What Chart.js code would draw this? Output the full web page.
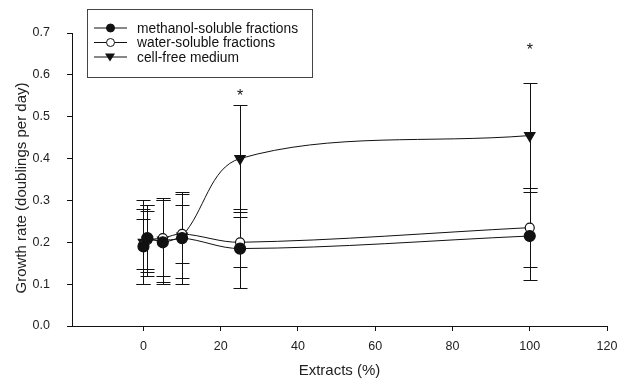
<!DOCTYPE html>
<html lang="en">
<head>
    <meta charset="UTF-8">
    <title>Growth rate vs extracts</title>
    <script src="https://cdn.jsdelivr.net/npm/chart.js@4.4.0/dist/chart.umd.min.js"></script>
    <style>
        html, body { margin: 0; padding: 0; background: #fff; }
        #wrap { width: 632px; height: 385px; position: relative; }
    </style>
</head>
<body>
    <div id="wrap"><canvas id="growthChart"></canvas></div>

    <script>
        // extract concentrations (%)
        const xValues = [0, 1, 5, 10, 25, 100];

        const methanolMean = [0.19, 0.21, 0.20, 0.21, 0.185, 0.215];
        const methanolErr  = [0.09, 0.08, 0.10, 0.11, 0.095, 0.105];

        const waterMean = [0.195, 0.205, 0.21, 0.22, 0.20, 0.235];
        const waterErr  = [0.06, 0.07, 0.09, 0.07, 0.06, 0.095];

        const mediumMean = [0.20, 0.205, 0.205, 0.215, 0.40, 0.455];
        const mediumErr  = [0.10, 0.085, 0.10, 0.10, 0.127, 0.125];

        // significance marks
        const starX = [25, 100];
        const starY = [0.555, 0.665];

        const yTicks = [0, 0.1, 0.2, 0.3, 0.4, 0.5, 0.6, 0.7];
        const xTicks = [0, 20, 40, 60, 80, 100, 120];

        const seriesNames = ['methanol-soluble fractions', 'water-soluble fractions', 'cell-free medium'];
        const yTitle = 'Growth rate (doublings per day)';

        const FONT = 'Arial, "Liberation Sans", sans-serif';

        function pts(means) {
            return xValues.map((x, i) => ({ x: x, y: means[i] }));
        }

        const errSets = [methanolErr, waterErr, mediumErr];

        // error bars drawn behind the markers
        const errorBars = {
            id: 'errorBars',
            beforeDatasetsDraw(chart) {
                const c = chart.ctx;
                const xs = chart.scales.x, ys = chart.scales.y;
                c.save();
                c.strokeStyle = '#111';
                c.lineWidth = 1;
                chart.data.datasets.forEach((ds, di) => {
                    ds.data.forEach((p, i) => {
                        const e = errSets[di][i];
                        const px = Math.round(xs.getPixelForValue(p.x)) + 0.5;
                        const top = Math.round(ys.getPixelForValue(p.y + e)) + 0.5;
                        const bot = Math.round(ys.getPixelForValue(p.y - e)) + 0.5;
                        c.beginPath();
                        c.moveTo(px, top); c.lineTo(px, bot);
                        c.moveTo(px - 7, top); c.lineTo(px + 7, top);
                        c.moveTo(px - 7, bot); c.lineTo(px + 7, bot);
                        c.stroke();
                    });
                });
                c.restore();
            },
            afterDraw(chart) {
                const c = chart.ctx;
                const xs = chart.scales.x, ys = chart.scales.y;
                c.save();
                c.fillStyle = '#111';
                c.font = '16px ' + FONT;
                c.textAlign = 'center';
                c.textBaseline = 'middle';
                starX.forEach((x, i) => {
                    c.fillText('*', xs.getPixelForValue(x), ys.getPixelForValue(starY[i]) + 3);
                });

                // y axis title, sitting a little below the axis centre as in the original
                c.save();
                c.translate(22, 188);
                c.rotate(-Math.PI / 2);
                c.fillStyle = '#222';
                c.font = '15px ' + FONT;
                c.fillText(yTitle, 0, 0);
                c.restore();

                // legend box
                const bx = 87, by = 9, bw = 225, bh = 68;
                c.strokeStyle = '#444';
                c.lineWidth = 1;
                c.fillStyle = '#fff';
                c.fillRect(bx, by, bw, bh);
                c.strokeRect(bx + 0.5, by + 0.5, bw, bh);
                c.font = '13.8px ' + FONT;
                c.textAlign = 'left';
                const rowY = [28, 42.5, 57];
                seriesNames.forEach((name, i) => {
                    const y = rowY[i];
                    c.strokeStyle = '#111';
                    c.beginPath();
                    c.moveTo(94, y); c.lineTo(127, y);
                    c.stroke();
                    c.beginPath();
                    if (i === 2) {
                        c.moveTo(105, y - 3.5); c.lineTo(115, y - 3.5); c.lineTo(110, y + 4.5);
                        c.closePath();
                        c.fillStyle = '#111'; c.fill();
                    } else {
                        c.arc(110.5, y, 4, 0, Math.PI * 2);
                        c.fillStyle = i === 0 ? '#111' : '#fff';
                        c.fill(); c.stroke();
                    }
                    c.fillStyle = '#111';
                    c.fillText(name, 137, y + 1);
                });
                c.restore();
            }
        };

        function lineSet(label, means, style, fill, radius, rotation) {
            return {
                label: label,
                data: pts(means),
                showLine: true,
                borderColor: '#111',
                borderWidth: 1,
                tension: 0.35,
                pointStyle: style,
                pointRotation: rotation || 0,
                pointRadius: radius,
                pointBackgroundColor: fill,
                pointBorderColor: '#111',
                pointBorderWidth: 1.2
            };
        }

        new Chart(document.getElementById('growthChart'), {
            type: 'scatter',
            data: {
                datasets: [
                    lineSet(seriesNames[0], methanolMean, 'circle', '#111', 5.5),
                    lineSet(seriesNames[1], waterMean, 'circle', '#fff', 4.5),
                    lineSet(seriesNames[2], mediumMean, 'triangle', '#111', 6, 180)
                ]
            },
            options: {
                responsive: true,
                maintainAspectRatio: false,
                animation: false,
                layout: { padding: { top: 33, right: 25, left: 13, bottom: 0 } },
                plugins: {
                    legend: { display: false },
                    tooltip: { enabled: false }
                },
                scales: {
                    x: {
                        type: 'linear',
                        min: -18.5,
                        max: 120,
                        afterBuildTicks(axis) {
                            axis.ticks = xTicks.map(v => ({ value: v }));
                        },
                        afterFit(axis) { axis.height = 59; },
                        grid: { drawOnChartArea: false, color: '#111', tickLength: 5 },
                        border: { color: '#111', width: 1 },
                        ticks: { color: '#222', font: { family: FONT, size: 12.5 }, padding: 8 },
                        title: { display: true, text: 'Extracts (%)', color: '#222', font: { family: FONT, size: 15 }, padding: { top: 0, bottom: 5 } }
                    },
                    y: {
                        min: 0,
                        max: 0.7,
                        afterBuildTicks(axis) {
                            axis.ticks = yTicks.map(v => ({ value: v }));
                        },
                        afterFit(axis) { axis.width = 59; },
                        grid: { drawOnChartArea: false, color: '#111', tickLength: 5 },
                        border: { color: '#111', width: 1 },
                        ticks: {
                            color: '#222',
                            font: { family: FONT, size: 12.5 },
                            padding: 17,
                            callback: v => v.toFixed(1)
                        }
                    }
                }
            },
            plugins: [errorBars]
        });
    </script>
</body>
</html>
